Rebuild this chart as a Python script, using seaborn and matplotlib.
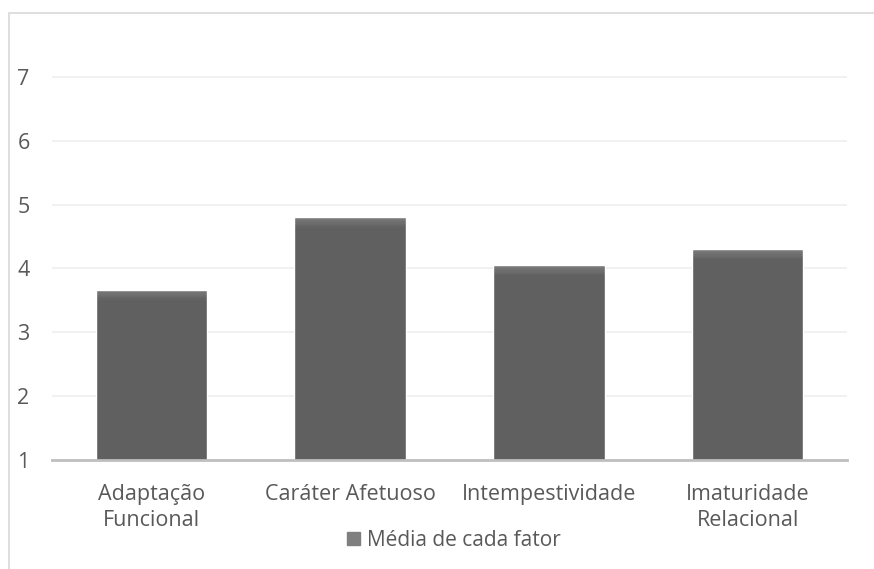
import numpy as np
import pandas as pd
import matplotlib
matplotlib.use('Agg')
import matplotlib.pyplot as plt
import seaborn as sns
from matplotlib.patches import Rectangle

categorias = ['Adaptação\nFuncional', 'Caráter Afetuoso', 'Intempestividade', 'Imaturidade\nRelacional']
medias = [3.67, 4.80, 4.05, 4.30]
serie = 'Média de cada fator'
yticks = [1, 2, 3, 4, 5, 6, 7]

df = pd.DataFrame({'fator': categorias, 'media': medias, 'serie': serie})

sns.set_theme(style='white')
plt.rcParams['font.family'] = ['Open Sans', 'DejaVu Sans']

fig = plt.figure(figsize=(8.74, 5.69), dpi=100)
ax = fig.add_axes([52/874, 1-460/569, 795/874, 447/569])

sns.barplot(data=df, x='fator', y='media', hue='serie', palette=['#606060'],
            width=0.56, ax=ax, legend=False, zorder=3)

# lighter top strip, like the Excel bevel
for p in ax.patches:
    x0, w, h = p.get_x(), p.get_width(), p.get_height()
    n = 8
    for i in range(n):
        a = 0.35 * (1 - i / n)
        ax.add_patch(Rectangle((x0, h - 0.02 - i*0.02), w, 0.02, color='white',
                               alpha=a*0.5, lw=0, zorder=4))

ax.set_ylim(1, 8)
ax.set_xlim(-0.5, 3.5)
ax.set_yticks(yticks)
ax.set_yticklabels([str(t) for t in yticks], fontsize=15.5, color='#595959')
for lbl in ax.get_yticklabels():
    lbl.set_horizontalalignment('left')
ax.tick_params(axis='y', length=0, pad=25)
ax.tick_params(axis='x', length=0, pad=17, labelsize=15.5, labelcolor='#595959')
for lbl in ax.get_xticklabels():
    lbl.set_linespacing(1.35)
ax.set_xlabel('')
ax.set_ylabel('')
ax.grid(axis='y', color='#efefef', lw=1.2, zorder=0)
for s in ['top', 'right', 'left']:
    ax.spines[s].set_visible(False)
ax.spines['bottom'].set_color('#bfbfbf')
ax.spines['bottom'].set_linewidth(2)
ax.spines['bottom'].set_zorder(5)

# outer chart frame (cropped at right and bottom)
fig.add_artist(Rectangle((9/874, -0.1), 1.2, 1 - 13/569 + 0.1, transform=fig.transFigure,
                         fill=False, edgecolor='#d9d9d9', lw=1.2))

handles = [Rectangle((0, 0), 1, 1, color='#7f7f7f')]
fig.legend(handles, [serie], loc='center', bbox_to_anchor=(454/874, 1-540/569),
           frameon=False, fontsize=15, labelcolor='#595959', handlelength=0.6,
           handleheight=0.6, handletextpad=0.35)

fig.savefig('out.png', dpi=100)
